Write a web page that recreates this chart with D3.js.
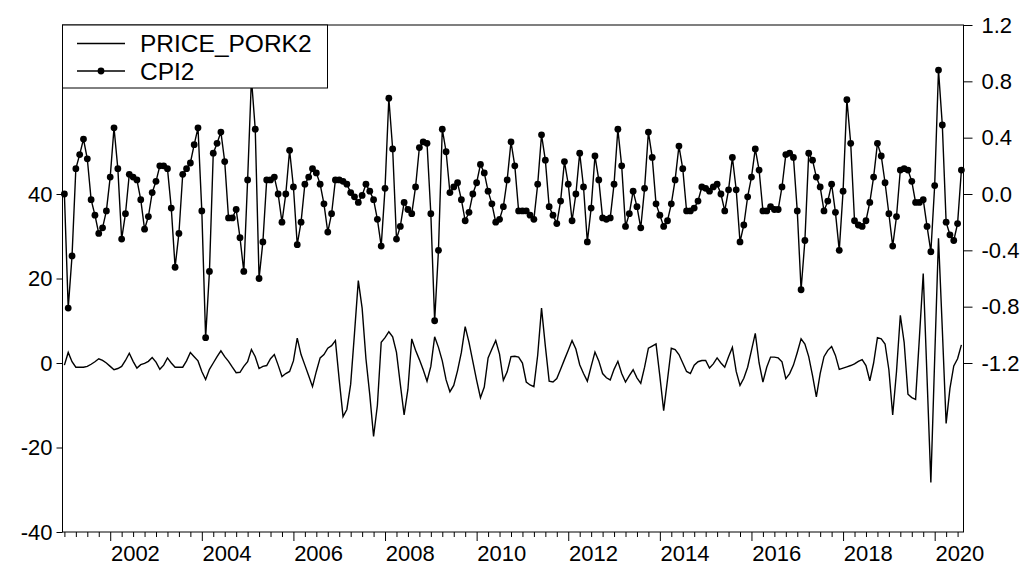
<!DOCTYPE html>
<html>
<head>
<meta charset="utf-8">
<script src="https://cdn.jsdelivr.net/npm/d3@7"></script>
<style>
  body { margin: 0; background: #fff; }
  svg text { font-family: "Liberation Sans", Arial, sans-serif; fill: #000; }
</style>
</head>
<body>
<div id="chart"></div>
<script>
// monthly observations, 2001M01 onwards
var startYear = 2001;
var startMonth = 0;

var cpi2 = [
  0.00, -0.81, -0.44, 0.18, 0.28, 0.39, 0.25, -0.04, -0.15, -0.28, -0.24, -0.12,
  0.12, 0.47, 0.18, -0.32, -0.14, 0.14, 0.12, 0.10, -0.04, -0.25, -0.16, 0.01,
  0.09, 0.20, 0.20, 0.18, -0.10, -0.52, -0.28, 0.14, 0.18, 0.22, 0.35, 0.47,
  -0.12, -1.02, -0.55, 0.29, 0.36, 0.44, 0.23, -0.17, -0.17, -0.11, -0.31, -0.55,
  0.10, 0.82, 0.46, -0.60, -0.34, 0.10, 0.10, 0.12, 0.00, -0.20, 0.00, 0.31,
  0.05, -0.36, -0.20, 0.07, 0.12, 0.18, 0.15, 0.07, -0.07, -0.27, -0.14, 0.10,
  0.10, 0.09, 0.07, 0.01, -0.02, -0.06, -0.01, 0.07, 0.02, -0.04, -0.18, -0.37,
  0.04, 0.68, 0.32, -0.32, -0.23, -0.06, -0.11, -0.14, 0.05, 0.33, 0.37, 0.36,
  -0.14, -0.90, -0.40, 0.46, 0.30, 0.01, 0.05, 0.08, -0.04, -0.19, -0.13, 0.00,
  0.08, 0.21, 0.15, 0.02, -0.07, -0.20, -0.18, -0.09, 0.10, 0.37, 0.20, -0.12,
  -0.12, -0.12, -0.15, -0.18, 0.07, 0.42, 0.24, -0.09, -0.15, -0.21, -0.05, 0.23,
  0.07, -0.19, 0.00, 0.29, 0.05, -0.34, -0.10, 0.27, 0.10, -0.17, -0.18, -0.17,
  0.07, 0.46, 0.20, -0.23, -0.14, 0.02, -0.09, -0.24, 0.04, 0.44, 0.26, -0.07,
  -0.15, -0.23, -0.19, -0.07, 0.10, 0.34, 0.18, -0.12, -0.12, -0.10, -0.05, 0.05,
  0.04, 0.02, 0.05, 0.07, 0.00, -0.12, 0.03, 0.26, 0.03, -0.34, -0.22, -0.02,
  0.12, 0.32, 0.17, -0.12, -0.12, -0.09, -0.11, -0.11, 0.05, 0.28, 0.29, 0.26,
  -0.12, -0.68, -0.33, 0.29, 0.24, 0.12, 0.05, -0.12, -0.05, 0.07, -0.13, -0.40,
  0.02, 0.67, 0.36, -0.19, -0.22, -0.23, -0.19, -0.06, 0.12, 0.36, 0.27, 0.08,
  -0.14, -0.37, -0.16, 0.17, 0.18, 0.17, 0.09, -0.06, -0.06, -0.04, -0.23, -0.41,
  0.06, 0.88, 0.49, -0.20, -0.29, -0.33, -0.21, 0.17
];

var pricePork2 = [
  -0.5, 2.5, 0.3, -1.0, -1.0, -1.0, -0.8, -0.3, 0.3, 1.0, 0.6, 0.0,
  -0.8, -1.6, -1.3, -0.8, 0.6, 2.3, 0.4, -1.2, -0.4, -0.1, 0.4, 1.3,
  0.2, -1.5, -0.5, 1.2, 0.0, -1.0, -1.0, -1.0, 0.5, 2.5, 1.5, 0.5,
  -2.0, -3.9, -1.5, 0.0, 1.5, 2.9, 1.5, 0.4, -1.0, -2.3, -2.2, -0.8,
  0.3, 3.2, 1.5, -1.3, -0.8, -0.6, 1.0, 2.0, -0.5, -3.2, -2.5, -2.0,
  0.5, 5.9, 2.0, -0.5, -3.0, -5.6, -2.0, 1.2, 2.0, 3.5, 4.1, 5.3,
  -4.0, -12.7, -11.0, -5.0, 7.0, 19.5, 13.0, 1.0, -7.5, -17.4, -10.0, 4.9,
  6.0, 7.4, 6.2, 2.5, -5.0, -12.3, -6.2, 5.7, 3.0, 0.8, -1.6, -4.3,
  -0.8, 6.2, 3.7, 0.5, -4.0, -6.8, -5.3, -1.8, 2.5, 8.6, 4.9, 0.4,
  -4.1, -8.2, -5.7, 1.2, 3.3, 5.3, 2.1, -4.1, -2.1, 1.5, 1.6, 1.4,
  0.0, -4.5, -5.2, -5.6, 1.9, 13.0, 4.0, -4.3, -4.5, -3.7, -1.5, 0.8,
  3.0, 5.3, 3.3, -0.4, -2.5, -4.3, -0.8, 2.6, 0.5, -2.5, -3.5, -4.0,
  -1.5, 0.4, -2.5, -4.5, -3.0, -1.6, -3.5, -4.8, -1.0, 3.5, 4.0, 4.5,
  -3.1, -11.3, -4.0, 3.5, 3.2, 2.0, 0.0, -2.0, -2.5, -0.5, 0.3, 0.6,
  0.6, -1.2, -0.2, 1.2, 0.0, -1.0, 1.5, 3.7, -2.0, -5.3, -3.6, -1.0,
  3.0, 7.0, 0.0, -4.5, -1.0, 1.4, 1.4, 1.2, 0.3, -3.7, -2.5, -0.5,
  2.5, 5.7, 4.5, 1.5, -3.0, -8.0, -2.5, 1.5, 3.0, 3.9, 1.8, -1.5,
  -1.2, -0.9, -0.6, -0.2, 0.4, 0.8, -0.6, -4.2, 0.0, 6.0, 5.7, 4.5,
  -1.6, -12.3, -2.0, 11.3, 4.9, -7.4, -8.2, -8.6, 6.0, 21.2, -3.5, -28.3,
  1.0, 29.5, 8.0, -14.3, -6.0, -0.7, 1.0, 4.3
];

var seriesNames = ["PRICE_PORK2", "CPI2"];
var leftTicks = [-40, -20, 0, 20, 40];
var rightTicks = [-1.2, -0.8, -0.4, 0.0, 0.4, 0.8, 1.2];
var yearLabels = [2002, 2004, 2006, 2008, 2010, 2012, 2014, 2016, 2018, 2020];

var width = 1024, height = 570;
var frame = { left: 62.5, right: 963.5, top: 25, bottom: 532 };

// plain hyphen for negative numbers, like the original
var locale = d3.formatLocale({ decimal: ".", thousands: ",", grouping: [3], currency: ["", ""], minus: "-" });

function t(i) { return startYear + (startMonth + i) / 12; }

var x = d3.scaleLinear()
  .domain([t(0), t(cpi2.length - 1)])
  .range([64.4, 961.4]);

var yLeft = d3.scaleLinear().domain([-40, 80]).range([frame.bottom, frame.top]);
var yRight = d3.scaleLinear().domain([-2.4, 1.2]).range([frame.bottom, frame.top]);

var svg = d3.select("#chart").append("svg")
  .attr("width", width)
  .attr("height", height);

// left axis
svg.append("g")
  .attr("transform", "translate(" + frame.left + ",0)")
  .call(d3.axisLeft(yLeft).tickValues(leftTicks).tickSize(6).tickPadding(4)
    .tickFormat(locale.format("d")))
  .call(function (g) { g.select(".domain").remove(); });

// right axis
svg.append("g")
  .attr("transform", "translate(" + frame.right + ",0)")
  .call(d3.axisRight(yRight).tickValues(rightTicks).tickSize(9).tickPadding(9)
    .tickFormat(locale.format(".1f")))
  .call(function (g) { g.select(".domain").remove(); });

// bottom axis: quarterly ticks, longer every second January
var quarterTicks = d3.range(0, cpi2.length, 3).map(t);
var bottom = svg.append("g")
  .attr("transform", "translate(0," + frame.bottom + ")");
bottom.call(d3.axisBottom(x).tickValues(quarterTicks).tickSize(5).tickFormat(""))
  .call(function (g) { g.select(".domain").remove(); });
bottom.selectAll(".tick line")
  .attr("y2", function (d) {
    var yr = Math.round(d * 12) / 12;
    return (Math.abs(yr - Math.round(yr)) < 1e-6 && yearLabels.indexOf(Math.round(yr)) >= 0) ? 9 : 5;
  });
bottom.selectAll("text.year")
  .data(yearLabels)
  .enter().append("text")
  .attr("class", "year")
  .attr("x", function (d) { return x(d + 0.55); })
  .attr("y", 29)
  .attr("text-anchor", "middle")
  .text(function (d) { return d; });

svg.selectAll(".tick text").attr("font-size", 22);
bottom.selectAll("text.year").attr("font-size", 22);
svg.selectAll(".tick line").attr("stroke", "#000");

// series
var porkLine = d3.line()
  .x(function (d, i) { return x(t(i)); })
  .y(function (d) { return yLeft(d); });
var cpiLine = d3.line()
  .x(function (d, i) { return x(t(i)); })
  .y(function (d) { return yRight(d); });

var plot = svg.append("g");
plot.append("path")
  .datum(pricePork2)
  .attr("fill", "none")
  .attr("stroke", "#000")
  .attr("stroke-width", 1.4)
  .attr("d", porkLine);
plot.append("path")
  .datum(cpi2)
  .attr("fill", "none")
  .attr("stroke", "#000")
  .attr("stroke-width", 1.4)
  .attr("d", cpiLine);
plot.selectAll("circle")
  .data(cpi2)
  .enter().append("circle")
  .attr("cx", function (d, i) { return x(t(i)); })
  .attr("cy", function (d) { return yRight(d); })
  .attr("r", 3.4)
  .attr("fill", "#000");

// frame
svg.append("rect")
  .attr("x", frame.left)
  .attr("y", frame.top)
  .attr("width", frame.right - frame.left)
  .attr("height", frame.bottom - frame.top)
  .attr("fill", "none")
  .attr("stroke", "#000")
  .attr("stroke-width", 1);

// legend
var legend = svg.append("g");
legend.append("rect")
  .attr("x", frame.left)
  .attr("y", frame.top)
  .attr("width", 265)
  .attr("height", 63)
  .attr("fill", "#fff")
  .attr("stroke", "#000")
  .attr("stroke-width", 1);
var rows = legend.selectAll("g.row")
  .data(seriesNames)
  .enter().append("g")
  .attr("class", "row")
  .attr("transform", function (d, i) { return "translate(0," + (43.5 + i * 27.5) + ")"; });
rows.append("line")
  .attr("x1", 77).attr("x2", 125)
  .attr("stroke", "#000").attr("stroke-width", 1.4);
rows.filter(function (d, i) { return i === 1; })
  .append("circle")
  .attr("cx", 101).attr("r", 3.4).attr("fill", "#000");
rows.append("text")
  .attr("x", 140)
  .attr("y", 8.5)
  .attr("font-size", 24.5)
  .text(function (d) { return d; });
</script>
</body>
</html>
